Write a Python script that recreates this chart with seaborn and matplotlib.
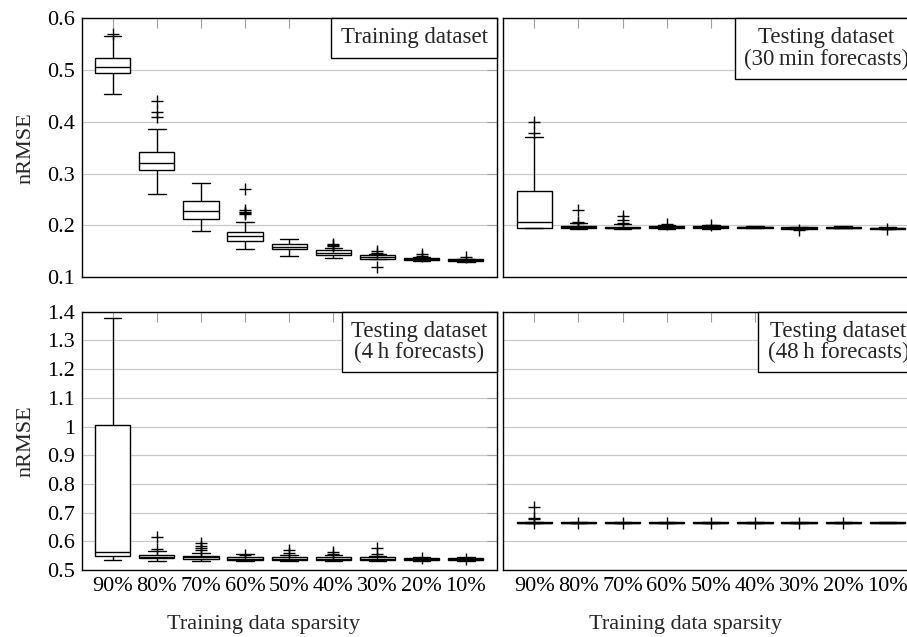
import numpy as np
import pandas as pd
import matplotlib
matplotlib.use("Agg")
from matplotlib import pyplot as plt
from matplotlib.offsetbox import AnchoredText
from matplotlib.ticker import FuncFormatter
import seaborn as sb

sparsity = ['90%', '80%', '70%', '60%', '50%', '40%', '30%', '20%', '10%']

tr_lo = [0.453, 0.260, 0.189, 0.155, 0.141, 0.137, 0.135, 0.131, 0.1295]
tr_q1 = [0.494, 0.307, 0.212, 0.170, 0.1535, 0.1425, 0.1355, 0.132, 0.130]
tr_med = [0.505, 0.321, 0.227, 0.179, 0.158, 0.147, 0.139, 0.1345, 0.132]
tr_q3 = [0.523, 0.342, 0.246, 0.1875, 0.163, 0.152, 0.1425, 0.137, 0.134]
tr_hi = [0.566, 0.387, 0.282, 0.207, 0.1735, 0.1567, 0.144, 0.139, 0.1345]
tr_out = [[0.570], [0.441, 0.419, 0.410], [], [0.270, 0.229, 0.226, 0.223, 0.221],
          [], [0.164, 0.161, 0.159], [0.150, 0.147, 0.119], [0.144, 0.141], [0.138]]

# testing dataset, 30 min forecasts
t30_lo = [0.194, 0.192, 0.192, 0.193, 0.193, 0.194, 0.192, 0.194, 0.192]
t30_q1 = [0.195, 0.194, 0.194, 0.194, 0.194, 0.1945, 0.193, 0.1945, 0.193]
t30_med = [0.206, 0.196, 0.1955, 0.196, 0.196, 0.196, 0.1945, 0.1955, 0.194]
t30_q3 = [0.267, 0.198, 0.197, 0.198, 0.198, 0.197, 0.196, 0.197, 0.195]
t30_hi = [0.370, 0.2035, 0.202, 0.200, 0.200, 0.198, 0.197, 0.198, 0.196]
t30_out = [[0.399, 0.379], [0.229, 0.207, 0.205], [0.218, 0.211, 0.205], [0.203],
           [0.201], [], [0.191], [], [0.192]]

# testing dataset, 4 h forecasts
t4_lo = [0.534, 0.532, 0.530, 0.531, 0.531, 0.531, 0.531, 0.533, 0.533]
t4_q1 = [0.550, 0.541, 0.538, 0.535, 0.535, 0.535, 0.534, 0.536, 0.536]
t4_med = [0.562, 0.547, 0.544, 0.540, 0.540, 0.540, 0.539, 0.539, 0.539]
t4_q3 = [1.006, 0.553, 0.550, 0.544, 0.544, 0.544, 0.545, 0.542, 0.541]
t4_hi = [1.377, 0.567, 0.558, 0.556, 0.553, 0.552, 0.550, 0.546, 0.545]
t4_out = [[], [0.614, 0.572], [0.593, 0.585, 0.577, 0.570], [0.552], [0.568, 0.560],
          [0.564, 0.556], [0.576, 0.555], [0.541], [0.540]]

# testing dataset, 48 h forecasts
t48_lo = [0.663, 0.663, 0.663, 0.663, 0.663, 0.663, 0.663, 0.663, 0.663]
t48_q1 = [0.664, 0.664, 0.664, 0.664, 0.664, 0.664, 0.664, 0.664, 0.664]
t48_med = [0.665, 0.665, 0.665, 0.665, 0.665, 0.665, 0.665, 0.665, 0.665]
t48_q3 = [0.666, 0.666, 0.666, 0.666, 0.666, 0.666, 0.666, 0.666, 0.666]
t48_hi = [0.668, 0.667, 0.667, 0.667, 0.667, 0.667, 0.667, 0.667, 0.667]
t48_out = [[0.718, 0.682, 0.676, 0.665], [0.665], [0.665], [0.665], [0.665],
           [0.665], [0.665], [0.665], []]

top_ticks = [0.1, 0.2, 0.3, 0.4, 0.5, 0.6]
bottom_ticks = [0.5, 0.6, 0.7, 0.8, 0.9, 1.0, 1.1, 1.2, 1.3, 1.4]

sb.set_style("white")
plt.rcParams['font.family'] = ['Liberation Serif', 'DejaVu Serif']
fs = 16


def summary_frame(lo, q1, med, q3, hi):
    rows = []
    for s, *vals in zip(sparsity, lo, q1, med, q3, hi):
        for v in vals:
            rows.append((s, v))
    return pd.DataFrame(rows, columns=['sparsity', 'nRMSE'])


def outlier_frame(out):
    rows = [(s, v) for s, vals in zip(sparsity, out) for v in vals]
    return pd.DataFrame(rows, columns=['sparsity', 'nRMSE'])


panels = [
    ('Training dataset', summary_frame(tr_lo, tr_q1, tr_med, tr_q3, tr_hi), outlier_frame(tr_out), top_ticks),
    ('Testing dataset\n(30\u2009min forecasts)', summary_frame(t30_lo, t30_q1, t30_med, t30_q3, t30_hi), outlier_frame(t30_out), top_ticks),
    ('Testing dataset\n(4\u2009h forecasts)', summary_frame(t4_lo, t4_q1, t4_med, t4_q3, t4_hi), outlier_frame(t4_out), bottom_ticks),
    ('Testing dataset\n(48\u2009h forecasts)', summary_frame(t48_lo, t48_q1, t48_med, t48_q3, t48_hi), outlier_frame(t48_out), bottom_ticks),
]

fig = plt.figure(figsize=(9.07, 6.37), dpi=100)
W, H = 907.0, 637.0
# axes boxes in pixels: left, top, width, height (right column runs past the figure edge)
boxes = [(81.7, 18.3, 415, 258.7), (503.3, 18.3, 415, 258.7),
         (81.7, 311.7, 415, 258.3), (503.3, 311.7, 415, 258.3)]

for i, (title, df, odf, ticks) in enumerate(panels):
    l, t, w, h = boxes[i]
    ax = fig.add_axes([l / W, 1 - (t + h) / H, w / W, h / H])
    sb.boxplot(data=df, x='sparsity', y='nRMSE', order=sparsity, whis=(0, 100),
               showfliers=False, color='white', linecolor='black', linewidth=1.0,
               width=0.8, ax=ax)
    sb.stripplot(data=odf, x='sparsity', y='nRMSE', order=sparsity, jitter=False,
                 marker='+', color='black', edgecolor='black', size=8, linewidth=1.0, ax=ax)
    ax.set_xlim(-0.7, 8.7)
    ax.set_ylim(ticks[0], ticks[-1])
    ax.set_yticks(ticks)
    ax.yaxis.set_major_formatter(FuncFormatter(lambda v, p: f'{v:g}'))
    ax.yaxis.grid(True, color='#c8c8c8', lw=0.9)
    ax.set_axisbelow(True)
    ax.tick_params(direction='in', top=True, right=True, length=7, width=0.8,
                   color='#a0a0a0', labelsize=fs, pad=5, labelcolor='black')
    for sp in ax.spines.values():
        sp.set_color('black')
        sp.set_linewidth(1.0)
    ax.set_xlabel('')
    ax.set_ylabel('')
    if i < 2:
        ax.tick_params(labelbottom=False)
    else:
        ax.set_xlabel('Training data sparsity', fontsize=fs, labelpad=10)
        ax.xaxis.set_label_coords(0.438, -0.175)
    if i % 2 == 1:
        ax.tick_params(labelleft=False)
    else:
        ax.set_ylabel('nRMSE', fontsize=fs, labelpad=8)
    at = AnchoredText(title, loc='upper right', frameon=True, borderpad=0, pad=0.4,
                      prop=dict(size=fs + 0.5, multialignment='center', linespacing=1.0))
    at.patch.set_boxstyle('square,pad=0')
    at.patch.set_edgecolor('black')
    at.patch.set_linewidth(1.0)
    ax.add_artist(at)

fig.savefig('out.png', dpi=100)
